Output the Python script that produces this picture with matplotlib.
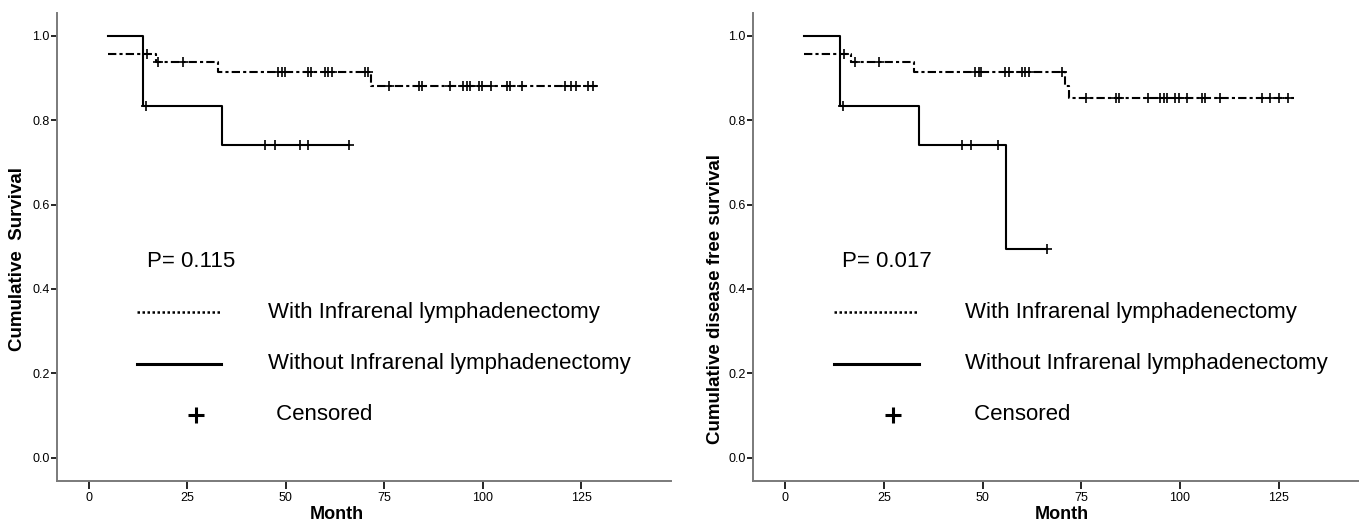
import numpy as np
import matplotlib
matplotlib.use("Agg")
import matplotlib.pyplot as plt

plt.rcParams['font.family'] = ['Liberation Sans', 'DejaVu Sans']

# ---- data (months, cumulative survival) ----
# overall survival
os_with_start = 4.9
os_with_drop_t = [17.0, 32.8, 71.7]
os_with_surv = [0.958, 0.937, 0.914, 0.882]
os_with_cens = [14.8, 17.6, 23.8, 48.0, 48.9, 49.7, 55.7, 56.5, 59.9, 60.7, 61.6,
                70.0, 70.9, 76.1, 83.8, 84.5, 91.8, 95.0, 95.9, 96.7, 99.1, 99.9,
                102.0, 106.2, 107.0, 110.1, 120.8, 122.3, 123.8, 126.7, 128.0]
os_with_end = 129.0

os_wo_start = 4.9
os_wo_drop_t = [13.7, 33.8]
os_wo_surv = [1.0, 0.833, 0.741]
os_wo_cens = [14.6, 44.8, 47.2, 53.7, 55.7, 66.1]
os_wo_end = 66.1

# disease free survival
dfs_with_start = 4.9
dfs_with_drop_t = [16.8, 32.7, 70.8, 72.0]
dfs_with_surv = [0.958, 0.937, 0.914, 0.882, 0.852]
dfs_with_cens = [14.8, 17.7, 23.8, 48.1, 49.0, 49.7, 55.8, 56.6, 60.0, 60.8, 61.7,
                 70.0, 76.2, 83.9, 84.6, 91.8, 95.0, 95.9, 96.7, 98.8, 99.7,
                 101.8, 105.6, 106.4, 110.0, 120.8, 122.9, 125.0, 127.3]
dfs_with_end = 128.8

dfs_wo_start = 4.9
dfs_wo_drop_t = [13.8, 33.9, 55.9]
dfs_wo_surv = [1.0, 0.833, 0.741, 0.494]
dfs_wo_cens = [14.7, 44.8, 47.1, 53.8, 66.2]
dfs_wo_end = 66.2

p_values = ["P= 0.115", "P= 0.017"]
ylabels = ["Cumulative  Survival", "Cumulative disease free survival"]
legend_labels = ["With Infrarenal lymphadenectomy",
                 "Without Infrarenal lymphadenectomy", " Censored"]
xticks = [0, 25, 50, 75, 100, 125]
yticks = [0.0, 0.2, 0.4, 0.6, 0.8, 1.0]

DASH = (4, 1.5, 1.5, 1.5)


def km_curve(ax, start, drop_t, surv, cens, end, solid):
    t = np.r_[start, drop_t, end]
    s = np.r_[surv, surv[-1]]
    kw = dict(color='black', lw=1.5)
    if solid:
        ax.plot(t, s, drawstyle='steps-post', **kw)
    else:
        ax.plot(t, s, drawstyle='steps-post', dashes=DASH, **kw)
    # censor marks sit on the curve at their time
    idx = np.searchsorted(np.r_[start, drop_t], cens, side='right') - 1
    ax.plot(cens, np.asarray(surv)[idx], ls='none', marker='+',
            ms=7, mew=1.2, color='black')


def style(ax, ylabel, ylab_x, ylab_y, xlab_x):
    ax.set_xlim(-8.2, 147.8)
    ax.set_ylim(-0.055, 1.055)
    for sp in ['top', 'right']:
        ax.spines[sp].set_visible(False)
    for sp in ['left', 'bottom']:
        ax.spines[sp].set_color('#7a7a7a')
        ax.spines[sp].set_linewidth(1.4)
    ax.set_xticks(xticks)
    ax.set_yticks(yticks)
    ax.set_yticklabels(["%.1f" % v for v in yticks])
    ax.tick_params(axis='y', length=4.5, width=1.2, pad=0.5, labelsize=9)
    ax.tick_params(axis='x', length=5.5, width=1.2, pad=2.5, labelsize=9)
    ax.set_ylabel(ylabel, fontsize=13.5, fontweight='bold')
    ax.yaxis.set_label_coords(ylab_x, ylab_y)
    ax.set_xlabel("Month", fontsize=13, fontweight='bold')
    ax.xaxis.set_label_coords(xlab_x, -0.055)


def legend(ax, ptxt, px, line_x0, line_x1, plus_x, txt_x, cens_x):
    ax.text(px, 0.464, ptxt, fontsize=16, va='center', ha='left')
    ax.plot([line_x0, line_x1], [0.345, 0.345], color='black', lw=1.8,
            dashes=(1, 1))
    ax.text(txt_x, 0.345, legend_labels[0], fontsize=16, va='center')
    ax.plot([line_x0, line_x1], [0.222, 0.222], color='black', lw=2.2)
    ax.text(txt_x, 0.224, legend_labels[1], fontsize=16, va='center')
    ax.plot([plus_x], [0.100], marker='+', ms=11, mew=2.2, color='black')
    ax.text(cens_x - 1.2, 0.102, legend_labels[2], fontsize=16, va='center')


fig = plt.figure(figsize=(13.59, 5.25), dpi=100)
ax1 = fig.add_axes([0.0417, 0.0844, 0.452, 0.8914])
ax2 = fig.add_axes([0.5539, 0.0844, 0.4533, 0.8914])

km_curve(ax1, os_with_start, os_with_drop_t, os_with_surv, os_with_cens, os_with_end, False)
km_curve(ax1, os_wo_start, os_wo_drop_t, os_wo_surv, os_wo_cens, os_wo_end, True)
km_curve(ax2, dfs_with_start, dfs_with_drop_t, dfs_with_surv, dfs_with_cens, dfs_with_end, False)
km_curve(ax2, dfs_wo_start, dfs_wo_drop_t, dfs_wo_surv, dfs_wo_cens, dfs_wo_end, True)

style(ax1, ylabels[0], -0.050, 0.474, 0.456)
style(ax2, ylabels[1], -0.047, 0.388, 0.502)

legend(ax1, p_values[0], 14.7, 12.2, 33.5, 27.2, 45.4, 47.2)
legend(ax2, p_values[1], 14.3, 12.4, 34.0, 27.3, 45.6, 47.5)

fig.savefig("out.png", dpi=100)
